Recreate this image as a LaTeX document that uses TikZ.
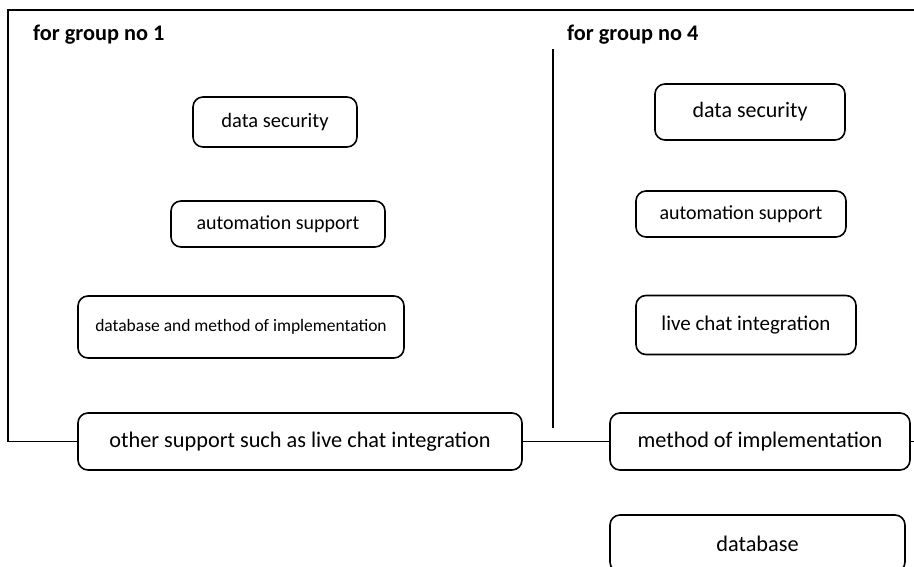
\documentclass[tikz,border=0pt]{standalone}
\usepackage{fontspec}
\setmainfont{Carlito}
\newcommand{\fs}[1]{\fontsize{#1}{#1}\selectfont}
\begin{document}
\begin{tikzpicture}[x=1pt,y=-1pt,
  item/.style={draw,rounded corners=10pt,line width=1.6pt,inner sep=0pt,
    font=\fs{22.3}},
  title/.style={anchor=base west,inner sep=0pt,font=\bfseries\fs{22.3}},
  wire/.style={line width=1.6pt}]
\useasboundingbox (0,0) rectangle (914,567);
% outer frame (left and top sides)
\coordinate (fbl) at (8,441.5);
\coordinate (ftl) at (8,10);
\coordinate (ftr) at (916,10);
\draw[wire,line join=miter] (fbl) -- (ftl) -- (ftr);
% group titles
\node[title] (t1) at (33,41) {for group no 1};
\node[title] (t4) at (567,41) {for group no 4};
% divider between the groups
\coordinate (dtop) at (553,49);
\coordinate (dbot) at (553,428);
\draw[wire] (dtop) -- (dbot);
% group 1
\node[item,minimum width=164pt,minimum height=50pt,font=\fs{20.5}] (a1) at (275,122) {data security};
\node[item,minimum width=214pt,minimum height=46pt,font=\fs{20}] (a2) at (278,224) {automation support};
\node[item,minimum width=326pt,minimum height=62pt,font=\fs{17.5}] (a3) at (241,327) {database and method of implementation};
\node[item,minimum width=444pt,minimum height=57pt] (a4) at (300,441.5) {other support such as live chat integration};
% group 4
\node[item,minimum width=190pt,minimum height=56pt,font=\fs{22}] (b1) at (750,112) {data security};
\node[item,minimum width=210pt,minimum height=46pt,font=\fs{20}] (b2) at (741,214) {automation support};
\node[item,minimum width=220pt,minimum height=59pt,font=\fs{21}] (b3) at (746,325) {live chat integration};
\node[item,minimum width=300pt,minimum height=57pt] (b4) at (760,441.5) {method of implementation};
\node[item,minimum width=295pt,minimum height=57pt] (b5) at (757.5,543.5) {database};
% connecting line along the bottom of the frame
\coordinate (fbr) at (916,441.5);
\draw[wire] (fbl) -- (a4.west);
\draw[wire] (a4.east) -- (b4.west);
\draw[wire] (b4.east) -- (fbr);
\end{tikzpicture}
\end{document}
